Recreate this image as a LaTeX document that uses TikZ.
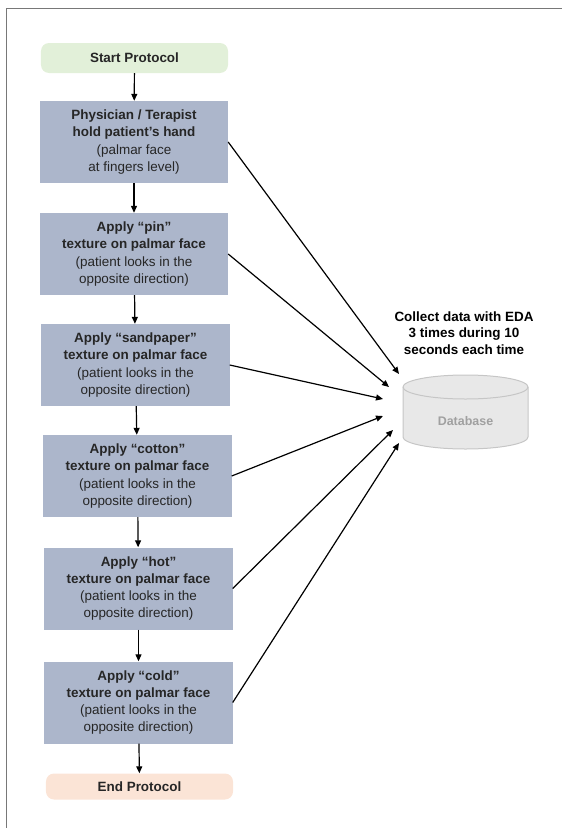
\documentclass[tikz,border=0pt]{standalone}
\usepackage{fontspec}
\setmainfont{Liberation Sans}
\usetikzlibrary{arrows.meta}
\definecolor{stepfill}{RGB}{172,182,203}
\definecolor{startfill}{RGB}{226,240,217}
\definecolor{endfill}{RGB}{251,228,214}
\definecolor{dbfill}{RGB}{232,232,232}
\definecolor{dbline}{RGB}{198,198,198}
\definecolor{dbtext}{RGB}{160,160,160}
\definecolor{framegray}{RGB}{120,120,120}
\def\applytext#1{\textbf{Apply “#1”}\\\textbf{texture on palmar face}\\(patient looks in the\\opposite direction)}

\begin{document}
\begin{tikzpicture}[x=1bp,y=-1bp,
	stepbox/.style={fill=stepfill, minimum width=188bp, minimum height=82bp, inner sep=0pt, align=center, text=black!85, font=\fontsize{13.5}{17.3}\selectfont},
	endbox/.style={rounded corners=8bp, minimum width=187bp, inner sep=0pt, align=center, text=black!85, font=\fontsize{13.5}{16}\selectfont\bfseries},
	flow/.style={line width=1.2bp, -{Triangle[length=7bp,width=6bp]}}]
		%%%%% START %%%%%
		
		\useasboundingbox (0,0) rectangle (562,828);
		\draw[framegray, line width=1bp] (6.5,828) -- (6.5,8.5) -- (562,8.5);
		
		\node[endbox, fill=startfill, minimum height=30bp] (start) at (134.5,58) {Start Protocol};
		\node[stepbox] (hold) at (134,142) {\textbf{Physician / Terapist}\\\textbf{hold patient’s hand}\\(palmar face\\at fingers level)};
		\node[stepbox] (pin) at (134,254) {\applytext{pin}};
		\node[stepbox] (sand) at (135.5,365) {\applytext{sandpaper}};
		\node[stepbox] (cotton) at (137.5,476) {\applytext{cotton}};
		\node[stepbox] (hot) at (138.5,588.5) {\applytext{hot}};
		\node[stepbox] (cold) at (138.5,702.5) {\applytext{cold}};
		\node[endbox, fill=endfill, minimum height=26bp] (end) at (139.5,786.5) {End Protocol};
		
		\foreach \a/\b in {start/hold, hold/pin, pin/sand, sand/cotton, cotton/hot, hot/cold, cold/end}
			\draw[flow] (\a) -- (\b);
		
		% database
		\draw[dbline, fill=dbfill, line width=1bp] (403,387) -- (403,437) arc[start angle=180, end angle=0, x radius=62.5, y radius=12] -- (528,387) arc[start angle=0, end angle=-180, x radius=62.5, y radius=12] -- cycle;
		\draw[dbline, line width=1bp] (403,387) arc[start angle=180, end angle=0, x radius=62.5, y radius=12];
		\node[text=dbtext, font=\fontsize{12.5}{15}\selectfont\bfseries] (db) at (465.5,421) {Database};
		\node[align=center, font=\fontsize{13.5}{16.7}\selectfont\bfseries] (collect) at (464,333) {Collect data with EDA\\3 times during 10\\seconds each time};
		
		\coordinate (t1) at (399,374);
		\coordinate (t2) at (389,387);
		\coordinate (t3) at (383,399);
		\coordinate (t4) at (383,416);
		\coordinate (t5) at (393,430);
		\coordinate (t6) at (399,443);
		\foreach \s/\t in {hold/t1, pin/t2, sand/t3, cotton/t4, hot/t5, cold/t6}
			\draw[flow] (\s.east) -- (\t);
		
		%%%%% END %%%%%
	\end{tikzpicture}
\end{document}
